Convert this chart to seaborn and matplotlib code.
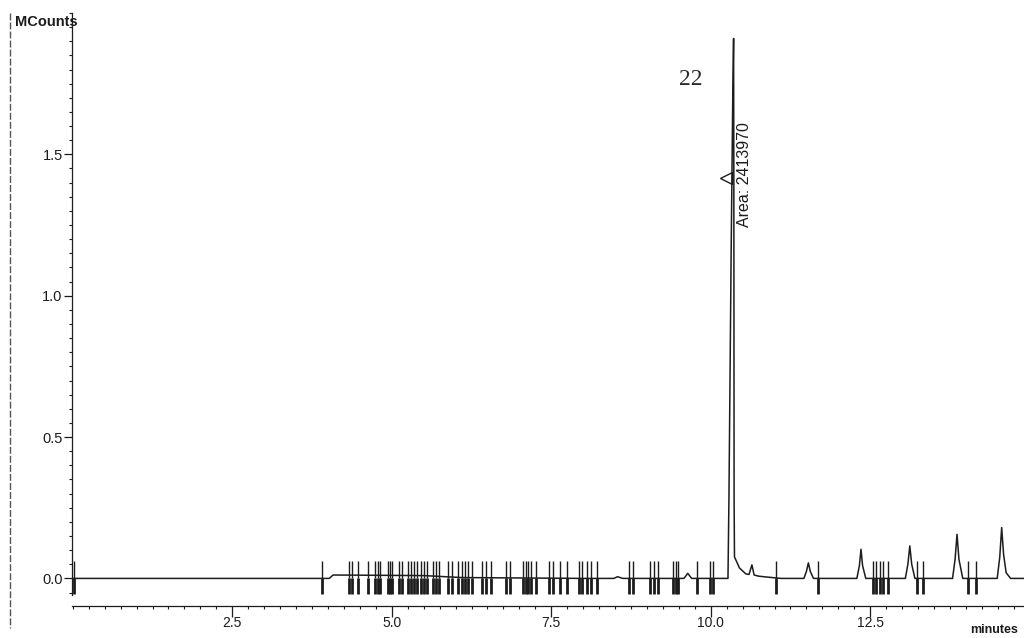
import matplotlib
matplotlib.use('Agg')
import seaborn as sns
import matplotlib.pyplot as plt
from matplotlib.lines import Line2D
from matplotlib.ticker import MultipleLocator

# Data: trace (minutes, MCounts)
trace_min = [
    0.0, 4.02, 4.08, 5.50, 6.10, 8.00,
    8.48, 8.54, 8.62,
    9.58, 9.64, 9.70,
    10.27, 10.285, 10.32, 10.345, 10.358, 10.362, 10.366, 10.372,
    10.45, 10.55, 10.60, 10.645, 10.68, 10.75, 10.87, 11.10,
    11.46, 11.50, 11.53, 11.56, 11.61,
    12.29, 12.33, 12.355, 12.38, 12.43,
    13.05, 13.09, 13.12, 13.15, 13.20,
    13.79, 13.83, 13.86, 13.89, 13.95,
    14.49, 14.53, 14.56, 14.59, 14.63, 14.70,
    14.93,
]
trace_mcounts = [
    0.0, 0.0, 0.012, 0.010, 0.003, 0.0,
    0.0, 0.006, 0.0,
    0.0, 0.018, 0.0,
    0.0, 0.28, 1.16, 1.70, 1.91, 1.40, 0.28, 0.076,
    0.037, 0.016, 0.014, 0.048, 0.012, 0.008, 0.005, 0.0,
    0.0, 0.025, 0.055, 0.025, 0.0,
    0.0, 0.045, 0.103, 0.045, 0.0,
    0.0, 0.050, 0.115, 0.050, 0.0,
    0.0, 0.068, 0.156, 0.068, 0.0,
    0.0, 0.075, 0.180, 0.085, 0.020, 0.0,
    0.0,
]

# integration event marks (minutes)
event_min = [
    0.02, 3.90, 4.33, 4.38, 4.47, 4.63, 4.74, 4.78, 4.82, 4.94, 4.97, 5.00,
    5.11, 5.16, 5.25, 5.30, 5.35, 5.40, 5.46, 5.50, 5.55, 5.65, 5.69, 5.74,
    5.88, 5.94, 6.04, 6.10, 6.15, 6.19, 6.26, 6.41, 6.48, 6.56, 6.79, 6.85,
    7.06, 7.10, 7.14, 7.18, 7.26, 7.46, 7.53, 7.64, 7.75, 7.93, 7.98, 8.06,
    8.12, 8.22, 8.72, 8.78, 9.05, 9.11, 9.17, 9.41, 9.45, 9.49, 9.78, 9.99,
    10.03, 11.02, 11.68, 12.54, 12.59, 12.65, 12.70, 12.78, 13.23, 13.33,
    14.03, 14.16,
]

x_ticks = [2.5, 5.0, 7.5, 10.0, 12.5]
x_tick_labels = ['2.5', '5.0', '7.5', '10.0', '12.5']
y_ticks = [0.0, 0.5, 1.0, 1.5]
y_tick_labels = ['0.0', '0.5', '1.0', '1.5']

peak_name = '22'
peak_area = 'Area: 2413970'
peak_mark_min = 10.24
peak_mark_mcounts = 1.417

ink = '#1c1c1c'

sns.set_style('ticks')
plt.rcParams['font.family'] = ['Liberation Sans', 'DejaVu Sans']

fig = plt.figure(figsize=(10.24, 6.38), dpi=100)
ax = fig.add_axes([0.0700, 0.0502, 0.93, 0.9294])

# event marks: thin above baseline, heavy below
ax.vlines(event_min, 0, 0.06, color=ink, lw=1.0)
ax.vlines(event_min, -0.055, 0, color=ink, lw=2.0)

sns.lineplot(x=trace_min, y=trace_mcounts, sort=False, estimator=None,
             color=ink, lw=1.1, ax=ax)

ax.plot(peak_mark_min, peak_mark_mcounts, marker='<', ms=8,
        mfc='white', mec=ink, mew=1.0, ls='none', zorder=1)

ax.set_xlim(-0.017, 14.91)
ax.set_ylim(-0.0975, 2.0)

ax.set_xticks(x_ticks, labels=x_tick_labels)
ax.xaxis.set_minor_locator(MultipleLocator(0.25))
ax.set_yticks(y_ticks, labels=y_tick_labels)
ax.yaxis.set_minor_locator(MultipleLocator(0.05))

ax.tick_params(axis='x', which='major', length=8, width=0.9, pad=-1,
               labelsize=10, colors=ink)
ax.tick_params(axis='x', which='minor', length=2.5, width=0.8, colors=ink)
ax.tick_params(axis='y', which='major', length=6, width=0.9, pad=0.5,
               labelsize=10.5, colors=ink)
ax.tick_params(axis='y', which='minor', length=2.4, width=0.8, colors=ink)

ax.spines['top'].set_visible(False)
ax.spines['right'].set_visible(False)
ax.spines['left'].set_bounds(-0.06, 2.0)
for s in ['left', 'bottom']:
    ax.spines[s].set_color(ink)
    ax.spines[s].set_linewidth(0.9)
ax.set_xlabel('')
ax.set_ylabel('')

ax.text(9.68, 1.765, peak_name, family=['Liberation Serif', 'DejaVu Serif'],
        fontsize=17, ha='center', va='center', color='#2a2a2a')
ax.text(10.53, 1.43, peak_area, rotation=90, fontsize=11.5,
        ha='center', va='center', color=ink)

fig.text(0.0146, 0.9655, 'MCounts', fontsize=10.5, fontweight='bold',
         ha='left', va='center', color=ink)
fig.text(0.994, 0.0125, 'minutes', fontsize=9, fontweight='bold',
         ha='right', va='center', color=ink)

# page border seen in the scan
fig.add_artist(Line2D([10 / 1024, 10 / 1024], [1 - 13 / 638, 1 - 628 / 638],
                      color='#555555', lw=1.0, ls=(0, (5, 1.5))))

fig.savefig('out.png', dpi=100)
